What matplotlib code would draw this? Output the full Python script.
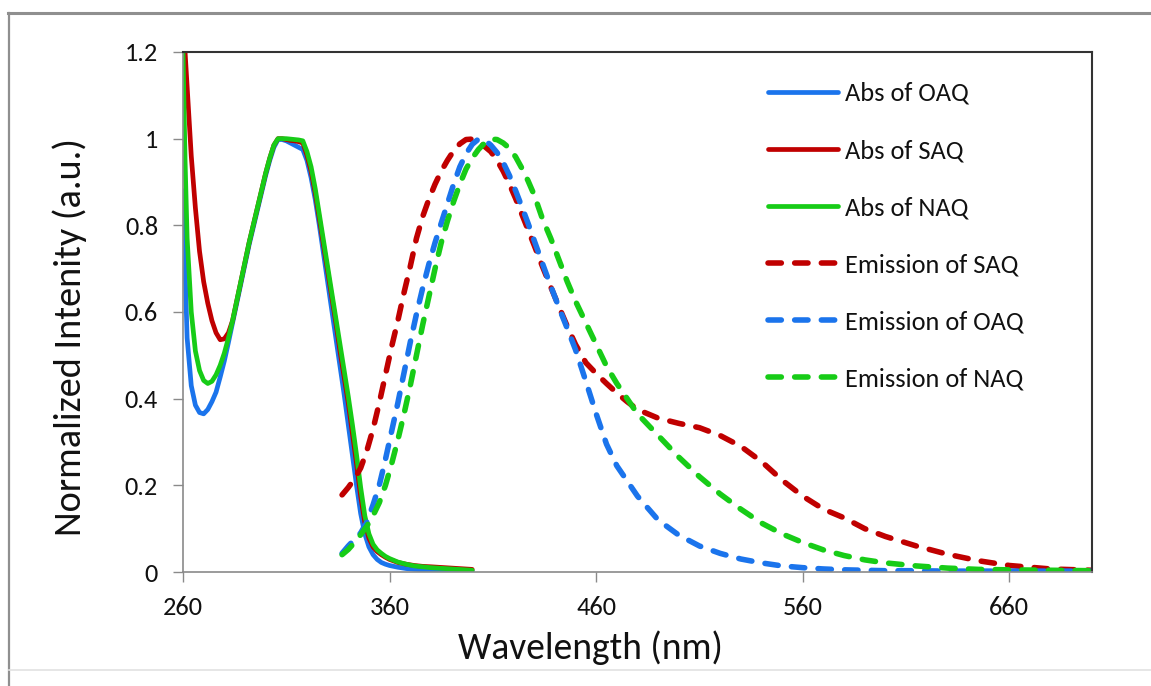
import matplotlib
matplotlib.use("Agg")
import matplotlib.pyplot as plt
from matplotlib import font_manager
from matplotlib.lines import Line2D

# ---------------- data ----------------
x_abs = [260, 261, 262, 264, 266, 268, 270, 272, 274, 276, 278, 280, 282, 284,
         286, 288, 290, 292, 294, 296, 298, 300, 302, 304, 306, 308, 310, 312, 314, 316, 318,
         320, 322, 324, 326, 328, 330, 332, 334, 336, 338, 340, 342, 344, 346, 348, 350,
         352, 354, 356, 358, 360, 364, 368, 372, 376, 380, 390, 400]

abs_oaq = [0.88, 0.70, 0.54, 0.43, 0.385, 0.368, 0.365, 0.375, 0.393, 0.415, 0.45, 0.487, 0.53, 0.575,
           0.62, 0.665, 0.71, 0.755, 0.795, 0.835, 0.875, 0.915, 0.95, 0.98, 0.998, 0.998, 0.995, 0.99, 0.985, 0.98, 0.975,
           0.95, 0.91, 0.86, 0.80, 0.735, 0.67, 0.605, 0.54, 0.475, 0.41, 0.34, 0.27, 0.20, 0.135, 0.088, 0.058,
           0.04, 0.029, 0.022, 0.018, 0.015, 0.011, 0.008, 0.006, 0.005, 0.004, 0.003, 0.002]

abs_saq = [1.28, 1.20, 1.12, 0.96, 0.84, 0.74, 0.67, 0.62, 0.58, 0.552, 0.536, 0.538, 0.552, 0.58,
           0.625, 0.67, 0.715, 0.76, 0.80, 0.84, 0.88, 0.92, 0.955, 0.985, 1.0, 1.0, 0.998, 0.996, 0.995, 0.993, 0.99,
           0.962, 0.925, 0.875, 0.815, 0.755, 0.695, 0.635, 0.575, 0.51, 0.45, 0.39, 0.32, 0.25, 0.175, 0.115, 0.078,
           0.058, 0.047, 0.04, 0.034, 0.029, 0.022, 0.018, 0.015, 0.013, 0.012, 0.009, 0.006]

abs_naq = [1.20, 0.95, 0.77, 0.60, 0.51, 0.465, 0.442, 0.435, 0.44, 0.455, 0.477, 0.505, 0.54, 0.58,
           0.625, 0.67, 0.715, 0.76, 0.80, 0.84, 0.88, 0.92, 0.955, 0.985, 1.0, 1.0, 1.0, 0.999, 0.998, 0.997, 0.995,
           0.97, 0.935, 0.885, 0.825, 0.765, 0.705, 0.645, 0.585, 0.525, 0.465, 0.405, 0.34, 0.27, 0.195, 0.13, 0.088,
           0.064, 0.051, 0.043, 0.036, 0.031, 0.023, 0.018, 0.014, 0.012, 0.010, 0.007, 0.004]

x_em = [337, 340, 343, 346, 349, 352, 355, 358, 361, 364, 367, 370, 373, 376, 379, 382, 385, 388,
        391, 394, 397, 400, 403, 406, 409, 412, 415, 418, 421, 424, 427, 430, 434, 438, 442, 446,
        450, 455, 460, 465, 470, 475, 480, 490, 500, 510, 520, 530, 540, 550, 560, 570, 580, 590,
        600, 615, 630, 645, 660, 680, 700]

em_saq = [0.178, 0.195, 0.215, 0.24, 0.28, 0.33, 0.39, 0.455, 0.52, 0.58, 0.645, 0.705, 0.77, 0.82, 0.86, 0.895, 0.925, 0.95,
          0.972, 0.988, 0.998, 0.999, 0.993, 0.982, 0.97, 0.95, 0.925, 0.895, 0.862, 0.826, 0.79, 0.754, 0.705, 0.658, 0.612, 0.567,
          0.525, 0.483, 0.458, 0.435, 0.413, 0.393, 0.375, 0.355, 0.343, 0.333, 0.315, 0.29, 0.255, 0.212, 0.175, 0.145, 0.125, 0.10,
          0.082, 0.06, 0.041, 0.026, 0.015, 0.007, 0.004]

em_oaq = [0.043, 0.06, 0.075, 0.09, 0.115, 0.155, 0.20, 0.26, 0.325, 0.39, 0.46, 0.53, 0.595, 0.655, 0.71, 0.76, 0.805, 0.85,
          0.895, 0.935, 0.965, 0.987, 0.999, 0.997, 0.985, 0.968, 0.945, 0.915, 0.88, 0.843, 0.805, 0.765, 0.712, 0.66, 0.61, 0.562,
          0.513, 0.44, 0.365, 0.295, 0.245, 0.21, 0.175, 0.12, 0.085, 0.06, 0.043, 0.03, 0.021, 0.014, 0.010, 0.007, 0.005, 0.004,
          0.003, 0.003, 0.002, 0.002, 0.002, 0.002, 0.002]

em_naq = [0.04, 0.052, 0.068, 0.086, 0.106, 0.13, 0.16, 0.20, 0.25, 0.305, 0.365, 0.43, 0.50, 0.57, 0.635, 0.70, 0.76, 0.81,
          0.855, 0.895, 0.93, 0.955, 0.975, 0.99, 0.999, 0.998, 0.99, 0.978, 0.958, 0.932, 0.903, 0.87, 0.815, 0.77, 0.72, 0.67,
          0.625, 0.575, 0.525, 0.475, 0.435, 0.40, 0.365, 0.315, 0.265, 0.22, 0.18, 0.145, 0.113, 0.088, 0.068, 0.051, 0.038, 0.028,
          0.021, 0.014, 0.009, 0.006, 0.005, 0.004, 0.003]

series_labels = ["Abs of OAQ", "Abs of SAQ", "Abs of NAQ",
                 "Emission of SAQ", "Emission of OAQ", "Emission of NAQ"]
x_ticks = [260, 360, 460, 560, 660]
y_ticks = [0, 0.2, 0.4, 0.6, 0.8, 1.0, 1.2]
y_tick_labels = ["0", "0.2", "0.4", "0.6", "0.8", "1", "1.2"]

# ---------------- style ----------------
names = {f.name for f in font_manager.fontManager.ttflist}
family = "Carlito" if "Carlito" in names else "Lato"
plt.rcParams["font.family"] = [family, "DejaVu Sans"]

BLUE = "#1B74EC"
RED = "#C00000"
GREEN = "#17CC17"

W, H = 1151, 686
fig = plt.figure(figsize=(W / 100, H / 100), dpi=100)
fig.patch.set_facecolor("white")

ax = fig.add_axes([183 / W, (H - 572) / H, (1092 - 183) / W, (572 - 52) / H])

lw_abs = 3.4
lw_em = 4.0
dash = (2.4, 2.4)

ax.plot(x_abs, abs_oaq, color=BLUE, lw=lw_abs, label=series_labels[0], solid_capstyle="round")
ax.plot(x_abs, abs_saq, color=RED, lw=lw_abs, label=series_labels[1], solid_capstyle="round")
ax.plot(x_abs, abs_naq, color=GREEN, lw=lw_abs, label=series_labels[2], solid_capstyle="round")
ax.plot(x_em, em_saq, color=RED, lw=lw_em, ls=(0, dash), dash_capstyle="round", label=series_labels[3])
ax.plot(x_em, em_oaq, color=BLUE, lw=lw_em, ls=(0, dash), dash_capstyle="round", label=series_labels[4])
ax.plot(x_em, em_naq, color=GREEN, lw=lw_em, ls=(0, dash), dash_capstyle="round", label=series_labels[5])

ax.set_xlim(260, 700)
ax.set_ylim(0, 1.2)
ax.set_xticks(x_ticks)
ax.set_xticklabels([str(v) for v in x_ticks])
ax.set_yticks(y_ticks)
ax.set_yticklabels(y_tick_labels)

for s in ("left", "bottom"):
    ax.spines[s].set_color("#8a8a8a")
    ax.spines[s].set_linewidth(1.2)
for s in ("top", "right"):
    ax.spines[s].set_color("#333333")
    ax.spines[s].set_linewidth(1.5)

ax.tick_params(axis="both", direction="out", length=7, width=1.0, color="#8a8a8a",
               labelsize=19, labelcolor="#111111")
ax.tick_params(axis="x", pad=10)
ax.tick_params(axis="y", pad=11)

fig.text(590 / W, 1 - 648 / H, "Wavelength (nm)", ha="center", va="center",
         fontsize=27, color="#111111")
fig.text(70 / W, 1 - 337 / H, "Normalized Intenity (a.u.)", ha="center", va="center",
         rotation=90, fontsize=27.5, color="#111111")

leg = ax.legend(loc="upper left", bbox_to_anchor=(768 / W, 1 - 82 / H),
                bbox_transform=fig.transFigure, frameon=False, fontsize=19,
                borderpad=0, borderaxespad=0, handlelength=2.65, handletextpad=0.27,
                labelspacing=1.29)
for t in leg.get_texts():
    t.set_color("#111111")

# outer chart frame (partially cropped in the reference)
fig.add_artist(Line2D([8 / W, 1.0], [1 - 13 / H, 1 - 13 / H], transform=fig.transFigure,
                      color="#8f8f8f", lw=2.2))
fig.add_artist(Line2D([9 / W, 9 / W], [1 - 13 / H, 0], transform=fig.transFigure,
                      color="#8f8f8f", lw=1.6))
fig.add_artist(Line2D([9 / W, 1.0], [1 - 670 / H, 1 - 670 / H], transform=fig.transFigure,
                      color="#e2e2e2", lw=1.2))

fig.savefig("out.png", dpi=100, facecolor="white")
